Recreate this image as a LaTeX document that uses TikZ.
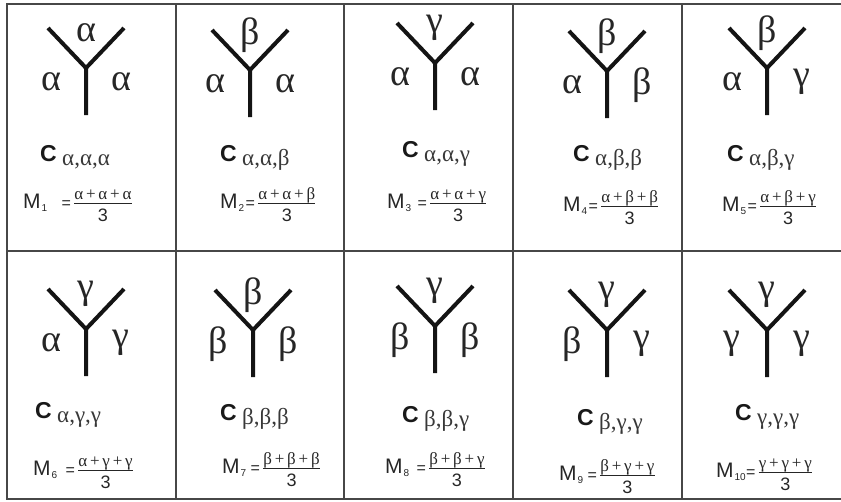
\documentclass[tikz,border=0pt]{standalone}
\usepackage{fontspec}
\setmainfont{Liberation Serif}
\newfontfamily\sansf{Liberation Sans}
\begin{document}
\begin{tikzpicture}[x=1pt,y=-1pt,
  yarm/.style={line width=4pt, draw=black!92},
  gridline/.style={line width=1.8pt, draw=black!72},
  glab/.style={font=\fontsize{38}{38}\selectfont, inner sep=0pt, text=black!85},
  cfont/.style={font=\sansf\bfseries\fontsize{23}{23}\selectfont, inner sep=0pt, text=black!90, anchor=base west},
  csub/.style={font=\fontsize{23}{23}\selectfont, inner sep=0pt, text=black!78, anchor=base west},
  mfont/.style={font=\sansf\fontsize{21}{21}\selectfont, inner sep=0pt, text=black!85, anchor=base west},
  msub/.style={font=\sansf\fontsize{10}{10}\selectfont, inner sep=0pt, text=black!85, anchor=base west},
  eqf/.style={font=\sansf\fontsize{16}{16}\selectfont, inner sep=0pt, text=black!85, anchor=base west},
  numf/.style={font=\fontsize{17}{17}\selectfont, inner sep=0pt, text=black!85, anchor=base west, text depth=0pt},
  denf/.style={font=\sansf\fontsize{18}{18}\selectfont, inner sep=0pt, text=black!85, anchor=base},
  barline/.style={line width=0.8pt, draw=black!85}]
\useasboundingbox (0,0) rectangle (841,501);
\clip (0,0) rectangle (841,501);
\draw[gridline] (7,4) rectangle (851,499);
\draw[gridline] (7,251) -- (851,251);
\foreach \x in {176,344,513,682} \draw[gridline] (\x,4) -- (\x,499);
\foreach \n/\jx/\jy/\cb/\mb/\t/\l/\r/\s/\cl/\ml/\g/\mi/\num in {
  1/86/68/161/208/α/α/α/{α,α,α}/40/23/14/1/{α\,+\,α\,+\,α},
  2/250/70/161/208/β/α/α/{α,α,β}/220/220/1/2/{α\,+\,α\,+\,β},
  3/435/63/157/208/γ/α/α/{α,α,γ}/402/387/6/3/{α\,+\,α\,+\,γ},
  4/607/71/161/211/β/α/β/{α,β,β}/573/563/1/4/{α\,+\,β\,+\,β},
  5/767/68/161/211/β/α/γ/{α,β,γ}/727/722/1/5/{α\,+\,β\,+\,γ},
  6/86/329/418/475/γ/α/γ/{α,γ,γ}/35/33/8/6/{α\,+\,γ\,+\,γ},
  7/253/330/420/473/β/β/β/{β,β,β}/220/222/4/7/{β\,+\,β\,+\,β},
  8/435/326/422/473/γ/β/β/{β,β,γ}/402/385/7/8/{β\,+\,β\,+\,γ},
  9/607/330/425/480/γ/β/γ/{β,γ,γ}/577/559/4/9/{β\,+\,γ\,+\,γ},
  10/767/330/420/477/γ/γ/γ/{γ,γ,γ}/735/716/0/10/{γ\,+\,γ\,+\,γ}} {
  \coordinate (j\n) at (\jx,\jy);
  \coordinate (a\n) at (\jx-38,\jy-40);
  \coordinate (b\n) at (\jx+38,\jy-40);
  \coordinate (s\n) at (\jx,\jy+47);
  \draw[yarm] (a\n) -- (j\n) -- (b\n) (j\n) -- (s\n);
  \node[glab] (t\n) at (\jx,\jy-35) {\t};
  \node[glab] (l\n) at (\jx-35,\jy+14) {\l};
  \node[glab] (r\n) at (\jx+35,\jy+14) {\r};
  \node[cfont] (c\n) at (\cl,\cb) {C};
  \node[csub] (cs\n) at ([xshift=5pt,yshift=-4pt]c\n.base east) {\s};
  \node[mfont] (m\n) at (\ml,\mb) {M};
  \node[msub] (mi\n) at ([xshift=0.5pt,yshift=-3pt]m\n.base east) {\mi};
  \node[eqf] (e\n) at ([xshift=\g pt,yshift=3pt]mi\n.base east) {=};
  \node[numf] (n\n) at ([xshift=3pt,yshift=9pt]e\n.base east) {\num};
  \node[denf] (d\n) at ([yshift=-22pt]n\n.base) {3};
  \draw[barline] ([yshift=-4pt]n\n.south west) -- ([yshift=-4pt]n\n.south east);
}
\end{tikzpicture}
\end{document}
